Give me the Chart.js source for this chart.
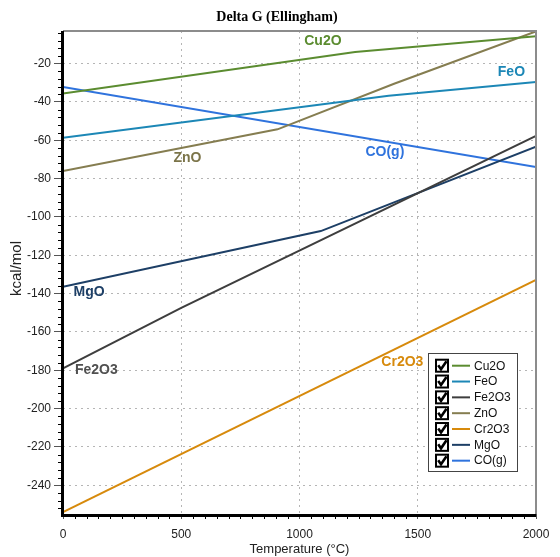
<!DOCTYPE html>
<html>
<head>
<meta charset="utf-8">
<title>Delta G (Ellingham)</title>
<script src="https://cdn.jsdelivr.net/npm/chart.js@4.4.1/dist/chart.umd.min.js"></script>
<style>
  html, body { margin: 0; padding: 0; background: #fff; }
  canvas { display: block; }
</style>
</head>
<body>
<canvas id="ellingham" width="560" height="557"></canvas>
<script>
// Ellingham diagram, values (kcal/mol against °C)
const seriesNames = ['Cu2O', 'FeO', 'Fe2O3', 'ZnO', 'Cr2O3', 'MgO', 'CO(g)'];

const cu2oTemp = [0, 1235, 2000];
const cu2oG = [-35.6, -14.0, -5.8];
const feoTemp = [0, 1377, 2000];
const feoG = [-58.7, -36.8, -29.6];
const fe2o3Temp = [0, 500, 2000];
const fe2o3G = [-179.0, -147.5, -57.7];
const znoTemp = [0, 907, 1400, 2000];
const znoG = [-76.1, -54.3, -30.5, -3.2];
const cr2o3Temp = [0, 2000];
const cr2o3G = [-254.0, -132.8];
const mgoTemp = [0, 1090, 2000];
const mgoG = [-136.5, -107.4, -63.3];
const coTemp = [0, 2000];
const coG = [-32.2, -73.9];

const xTicks = [0, 500, 1000, 1500, 2000];
const yTicks = [-240, -220, -200, -180, -160, -140, -120, -100, -80, -60, -40, -20];

// where each name is written on the plot (same order as seriesNames)
const labelTemp = [1099, 1896, 141, 526, 1435, 110, 1361];
const labelG = [-8.3, -24.4, -179.9, -69.4, -175.6, -139.2, -66.4];

const colors = ['#5b8c30', '#1c87b6', '#3e3e3e', '#857d50', '#d78a0c', '#1d3f66', '#2f73dd'];
const labelColors = ['#5b8c30', '#1c87b6', '#505050', '#7b7449', '#d78a0c', '#1d3f66', '#2f73dd'];

const temps = [cu2oTemp, feoTemp, fe2o3Temp, znoTemp, cr2o3Temp, mgoTemp, coTemp];
const gvals = [cu2oG, feoG, fe2o3G, znoG, cr2o3G, mgoG, coG];

const sans = '"Liberation Sans", Arial, sans-serif';

const datasets = seriesNames.map((name, i) => ({
  label: name,
  data: temps[i].map((t, k) => ({ x: t, y: gvals[i][k] })),
  borderColor: colors[i],
  backgroundColor: colors[i],
  borderWidth: 2,
  pointRadius: 0,
  tension: 0
}));

// frame, minor ticks, inline names, legend with check boxes, titles
const ellinghamDecor = {
  id: 'ellinghamDecor',
  afterDatasetsDraw(chart) {
    const { ctx, chartArea: a, scales } = chart;
    const xs = scales.x, ys = scales.y;
    ctx.save();

    // light frame at top and right
    ctx.strokeStyle = '#8c8c8c';
    ctx.lineWidth = 2;
    ctx.beginPath();
    ctx.moveTo(a.left, a.top);
    ctx.lineTo(a.right, a.top);
    ctx.lineTo(a.right, a.bottom);
    ctx.stroke();

    // heavy black axes
    ctx.fillStyle = '#000';
    ctx.fillRect(a.left - 2, a.top, 3, a.bottom - a.top + 3);
    ctx.fillRect(a.left - 2, a.bottom, a.right - a.left + 2, 3);

    // minor ticks
    ctx.strokeStyle = '#000';
    ctx.lineWidth = 1;
    ctx.beginPath();
    for (let v = -252; v <= -4; v += 4) {
      if (v % 20 === 0) continue;
      const py = Math.round(ys.getPixelForValue(v)) + 0.5;
      ctx.moveTo(a.left - 5, py);
      ctx.lineTo(a.left - 2, py);
    }
    for (let t = 50; t < 2000; t += 50) {
      if (t % 500 === 0) continue;
      const px = Math.round(xs.getPixelForValue(t)) + 0.5;
      ctx.moveTo(px, a.bottom + 3);
      ctx.lineTo(px, a.bottom + 5);
    }
    ctx.stroke();

    // names written next to the lines
    ctx.font = 'bold 14px ' + sans;
    ctx.textAlign = 'center';
    ctx.textBaseline = 'middle';
    seriesNames.forEach((name, i) => {
      ctx.fillStyle = labelColors[i];
      ctx.fillText(name, xs.getPixelForValue(labelTemp[i]), ys.getPixelForValue(labelG[i]));
    });
    ctx.restore();
  },
  afterDraw(chart) {
    const { ctx, chartArea: a } = chart;
    ctx.save();

    // legend box
    const lx = 428.5, ly = 353.5, lw = 89, lh = 118;
    ctx.fillStyle = '#fff';
    ctx.fillRect(lx, ly, lw, lh);
    ctx.strokeStyle = '#444';
    ctx.lineWidth = 1;
    ctx.strokeRect(lx, ly, lw, lh);

    ctx.font = '12px ' + sans;
    ctx.textAlign = 'left';
    ctx.textBaseline = 'middle';
    chart.data.datasets.forEach((ds, i) => {
      const cy = 365.7 + i * 15.83;
      // check box
      ctx.strokeStyle = '#000';
      ctx.lineWidth = 2;
      ctx.strokeRect(436, cy - 6, 12, 12);
      ctx.lineWidth = 2.6;
      ctx.beginPath();
      ctx.moveTo(438.2, cy - 0.5);
      ctx.lineTo(441, cy + 3.5);
      ctx.lineTo(446.5, cy - 4.5);
      ctx.stroke();
      // line sample
      ctx.strokeStyle = ds.borderColor;
      ctx.lineWidth = 2;
      ctx.beginPath();
      ctx.moveTo(452, cy);
      ctx.lineTo(470, cy);
      ctx.stroke();
      ctx.fillStyle = '#111';
      ctx.fillText(ds.label, 474, cy + 0.5);
    });

    // chart title
    ctx.fillStyle = '#000';
    ctx.textAlign = 'center';
    ctx.font = 'bold 14px "Liberation Serif", "Times New Roman", serif';
    ctx.fillText('Delta G (Ellingham)', 277, 17);

    // axis titles
    ctx.fillStyle = '#222';
    ctx.font = '13px ' + sans;
    ctx.fillText('Temperature (°C)', (a.left + a.right) / 2, 549);
    ctx.save();
    ctx.translate(17, (a.top + a.bottom) / 2 - 4);
    ctx.rotate(-Math.PI / 2);
    ctx.font = '15px ' + sans;
    ctx.fillText('kcal/mol', 0, 0);
    ctx.restore();

    ctx.restore();
  }
};

new Chart(document.getElementById('ellingham'), {
  type: 'line',
  data: { datasets },
  options: {
    responsive: false,
    animation: false,
    devicePixelRatio: 1,
    layout: { padding: { top: 31, right: 24, bottom: 0, left: 0 } },
    plugins: {
      legend: { display: false },
      title: { display: false },
      tooltip: { enabled: false }
    },
    scales: {
      x: {
        type: 'linear',
        min: 0,
        max: 2000,
        afterBuildTicks: (scale) => { scale.ticks = xTicks.map(v => ({ value: v })); },
        afterFit: (scale) => {
          scale.height = 43;
          scale.paddingLeft = 0;
          scale.paddingRight = 0;
        },
        ticks: {
          color: '#222',
          font: { size: 12, family: sans },
          padding: 8,
          maxRotation: 0,
          callback: (v) => String(v)
        },
        grid: { color: '#b5b5b5', lineWidth: 1, tickLength: 5, tickColor: '#555' },
        border: { display: false, dash: [2, 4] }
      },
      y: {
        type: 'linear',
        min: -255,
        max: -3,
        afterBuildTicks: (scale) => { scale.ticks = yTicks.map(v => ({ value: v })); },
        afterFit: (scale) => {
          scale.width = 63;
          scale.paddingTop = 0;
          scale.paddingBottom = 0;
        },
        ticks: {
          color: '#222',
          font: { size: 12, family: sans },
          padding: 3,
          callback: (v) => String(v)
        },
        grid: { color: '#b5b5b5', lineWidth: 1, tickLength: 9, tickColor: '#555' },
        border: { display: false, dash: [2, 4] }
      }
    }
  },
  plugins: [ellinghamDecor]
});
</script>
</body>
</html>
